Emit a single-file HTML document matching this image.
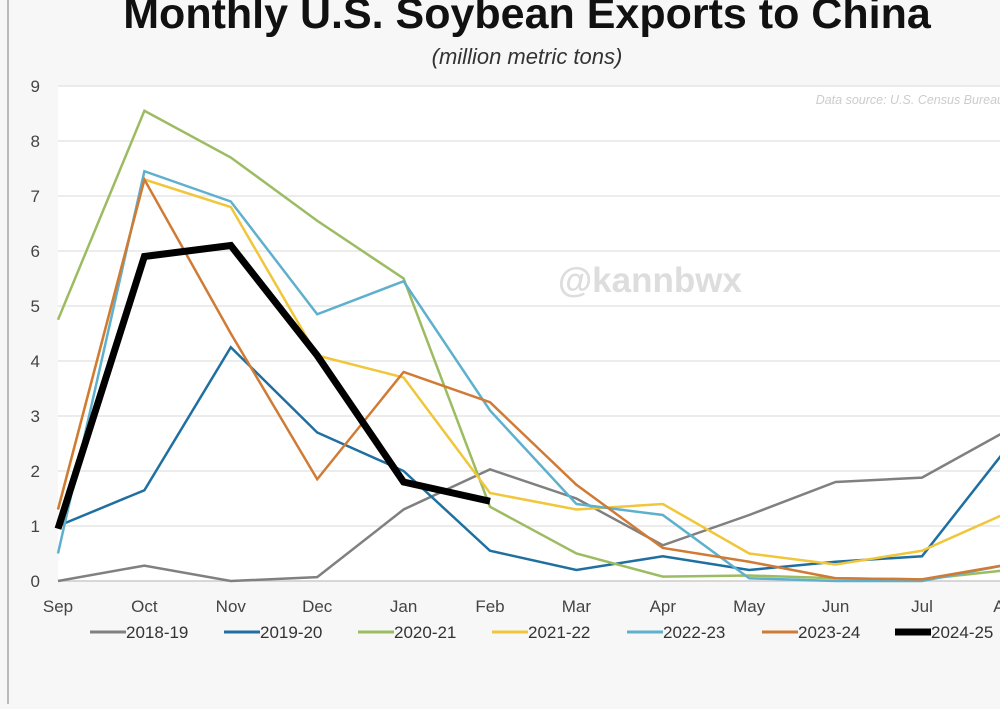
<!DOCTYPE html>
<html><head><meta charset="utf-8"><style>
body{margin:0;width:1000px;height:704px;overflow:hidden;background:#f7f7f7;font-family:"Liberation Sans",sans-serif}
</style></head><body>
<svg id="c" width="1000" height="704">
<rect x="0" y="0" width="1000" height="704" fill="#f7f7f7"/>
<line x1="8" y1="0" x2="8" y2="704" stroke="#bbb" stroke-width="2"/>
<rect x="58" y="86" width="950" height="495" fill="#fff"/>
<text x="527" y="28" text-anchor="middle" font-size="43" font-weight="bold" fill="#111">Monthly U.S. Soybean Exports to China</text>
<text x="527" y="64" text-anchor="middle" font-size="22" font-style="italic" fill="#333">(million metric tons)</text>
<text x="1004" y="104" text-anchor="end" font-size="12.5" font-style="italic" fill="#ccc">Data source: U.S. Census Bureau</text>
<text x="650" y="292" text-anchor="middle" font-size="35" font-weight="bold" fill="#ddd">@kannbwx</text>
<g id="grid"></g><g id="lines"></g><g id="legend"></g>
</svg>
<script>
const months=["Sep","Oct","Nov","Dec","Jan","Feb","Mar","Apr","May","Jun","Jul","Aug"];
const yTicks=[0,1,2,3,4,5,6,7,8,9];
const seriesNames=["2018-19","2019-20","2020-21","2021-22","2022-23","2023-24","2024-25"];
const colors=["#808080","#1f6fa0","#9cbc62","#f0c63a","#5fb0cc","#d07b35","#000"];
const s1819=[0,0.28,0,0.07,1.3,2.03,1.5,0.65,1.2,1.8,1.88,2.75];
const s1920=[1.0,1.65,4.25,2.7,2.0,0.55,0.2,0.45,0.2,0.35,0.45,2.45];
const s2021=[4.75,8.55,7.7,6.55,5.5,1.35,0.5,0.08,0.1,0.05,0.03,0.2];
const s2122=[1.3,7.3,6.8,4.1,3.7,1.6,1.3,1.4,0.5,0.3,0.55,1.25];
const s2223=[0.5,7.45,6.9,4.85,5.45,3.1,1.4,1.2,0.05,0,0,0.3];
const s2324=[1.3,7.3,4.5,1.85,3.8,3.25,1.75,0.6,0.35,0.05,0.03,0.3];
const s2425=[0.95,5.9,6.1,4.1,1.8,1.45];
const allSeries=[s1819,s1920,s2021,s2122,s2223,s2324,s2425];
const NS="http://www.w3.org/2000/svg";
const x=i=>58+i*86.4;
const y=v=>581-v*55;
function mk(t,a,p){const e=document.createElementNS(NS,t);for(const k in a)e.setAttribute(k,a[k]);p.appendChild(e);return e;}
const g=document.getElementById('grid');
yTicks.forEach(t=>{
 const l=mk('line',{x1:58,x2:1000,y1:y(t),y2:y(t),stroke:t==0?'#ccc':'#e6e6e6','stroke-width':1.5},g);
 
 
 const tx=mk('text',{x:40,y:y(t)+6,'text-anchor':'end','font-size':17,fill:'#444'},g);tx.textContent=t;
 
 
});
months.forEach((m,i)=>{
 const tx=mk('text',{x:x(i),y:612,'text-anchor':'middle','font-size':17,fill:'#444'},g);tx.textContent=m;
 
 
});
const L=document.getElementById('lines');
allSeries.forEach((s,k)=>{
 const p=mk('polyline',{points:s.map((v,i)=>x(i)+','+y(v)).join(' '),fill:'none',stroke:colors[k],'stroke-width':k==6?7:2.5,'stroke-linejoin':'miter'},L);
 
 
});
const G=document.getElementById('legend');
const lx=[90,224,358,492,627,762,895];
seriesNames.forEach((n,k)=>{
 const l=mk('line',{x1:lx[k],x2:lx[k]+36,y1:632,y2:632,stroke:colors[k],'stroke-width':k==6?7:3},G);
 
 
 const t=mk('text',{x:lx[k]+36,y:638,'font-size':17,fill:'#333'},G);t.textContent=n;
 
 
});
</script>
</body></html>
